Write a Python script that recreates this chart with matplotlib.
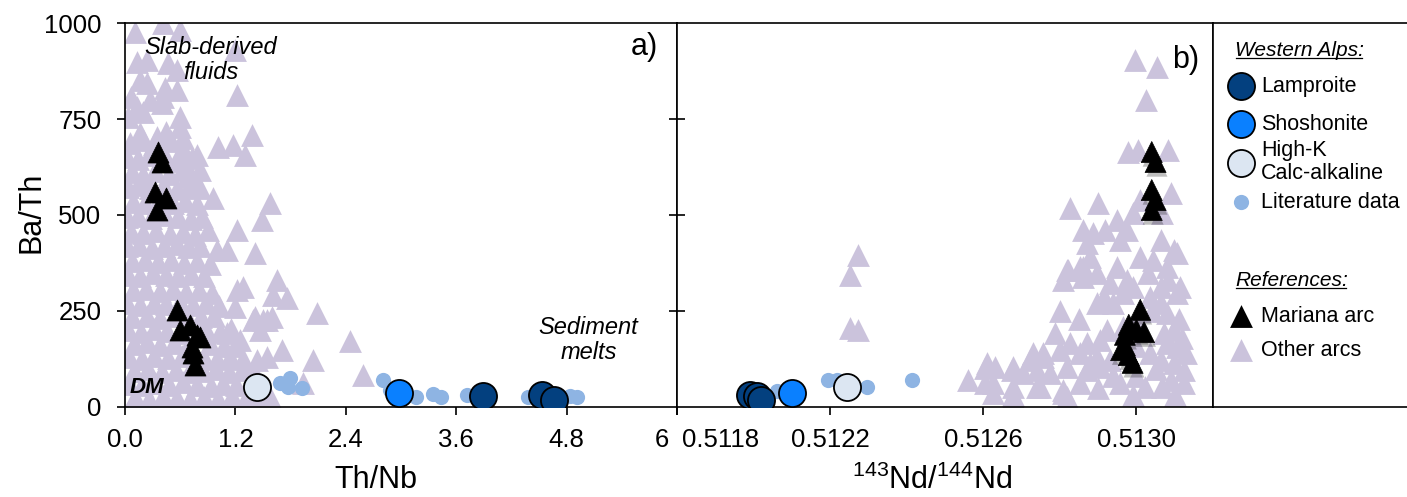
import matplotlib
matplotlib.use("Agg")
import matplotlib.pyplot as plt
import matplotlib.patheffects as pe
from matplotlib.transforms import ScaledTranslation, IdentityTransform
from matplotlib.lines import Line2D

plt.rcParams['font.family'] = ['Liberation Sans', 'DejaVu Sans']
plt.rcParams['mathtext.fontset'] = 'custom'
plt.rcParams['mathtext.rm'] = 'Liberation Sans'
plt.rcParams['mathtext.it'] = 'Liberation Sans:italic'

# ---- panel a: Th/Nb vs Ba/Th ----
other_a_x = [0.11, 0.41, 0.60, 1.20, 0.13, 0.24, 0.47, 0.56, 0.16, 0.24, 0.43, 0.56, 0.07, 0.13,
             0.27, 0.41, 0.40, 0.20, 0.03, 0.60, 0.60, 0.16, 0.35, 0.45, 0.63, 0.65, 0.78, 0.73,
             0.60, 0.82, 0.67, 0.82, 0.96, 1.22, 1.01, 1.17, 1.30, 1.38, 1.58, 1.49, 1.22, 0.90,
             1.00, 1.11, 1.41, 1.65, 1.22, 1.28, 1.61, 1.76, 1.20, 2.09, 1.39, 1.54, 1.25, 1.11,
             1.71, 2.04, 1.93, 2.45, 2.59, 1.54, 1.43, 1.54, 1.47, 1.60, 1.41, 1.50,
             0.05, 0.20, 0.32, 0.50,
             0.02, 0.14, 0.26, 0.45, 0.55,
             0.08, 0.20, 0.33, 0.48, 0.62, 0.72,
             0.03, 0.15, 0.27, 0.42, 0.57, 0.70,
             0.09, 0.22, 0.37, 0.52, 0.65, 0.78,
             0.02, 0.14, 0.28, 0.44, 0.58, 0.72, 0.84,
             0.07, 0.20, 0.34, 0.49, 0.63, 0.76,
             0.02, 0.15, 0.29, 0.42, 0.56, 0.69, 0.82,
             0.08, 0.22, 0.36, 0.50, 0.64, 0.78, 0.92,
             0.03, 0.16, 0.30, 0.45, 0.58, 0.72, 0.86,
             0.09, 0.23, 0.38, 0.52, 0.66, 0.80, 0.95,
             0.02, 0.16, 0.31, 0.45, 0.60, 0.74, 0.88, 1.02,
             0.08, 0.24, 0.38, 0.53, 0.68, 0.83, 0.97,
             0.03, 0.17, 0.31, 0.46, 0.62, 0.88, 1.03, 1.15,
             0.10, 0.24, 0.38, 0.53, 0.68, 0.92, 1.08, 1.20,
             0.04, 0.18, 0.32, 0.47, 0.62, 0.86, 1.00, 1.14, 1.28,
             0.10, 0.25, 0.40, 0.55, 0.70, 0.85, 0.99, 1.13, 1.27, 1.40,
             0.04, 0.18, 0.33, 0.48, 0.63, 0.78, 0.93, 1.07, 1.21, 1.35, 1.48,
             0.11, 0.26, 0.41, 0.56, 0.71, 0.86, 1.01, 1.16, 1.31, 1.45, 1.58]
other_a_y = [977, 1000, 982, 930, 898, 904, 895, 877, 851, 843, 830, 825, 807, 781,
             799, 807, 791, 768, 755, 755, 729, 713, 703, 716, 700, 661, 656, 648,
             651, 617, 599, 570, 544, 812, 677, 682, 656, 708, 531, 487, 461, 461,
             409, 409, 401, 331, 305, 313, 292, 284, 261, 245, 227, 227, 174, 193,
             148, 122, 62, 172, 83, 130, 122, 18, 201, 234, 234, 227,
             688, 695, 684, 692,
             652, 645, 655, 648, 640,
             612, 605, 615, 608, 618, 604,
             572, 578, 570, 576, 568, 574,
             535, 530, 538, 532, 536, 528,
             495, 498, 492, 500, 494, 490, 496,
             455, 452, 458, 450, 456, 448,
             418, 422, 415, 420, 425, 416, 420,
             380, 384, 378, 382, 376, 380, 372,
             345, 342, 348, 344, 340, 346, 342,
             305, 308, 302, 306, 300, 304, 298,
             270, 266, 272, 268, 274, 266, 270, 262,
             235, 238, 232, 236, 230, 234, 238,
             200, 196, 202, 198, 194, 200, 196, 204,
             165, 168, 162, 166, 160, 164, 160, 158,
             130, 126, 132, 128, 134, 128, 124, 130, 126,
             95, 98, 92, 96, 90, 94, 98, 92, 96, 90,
             60, 56, 62, 58, 64, 58, 54, 60, 56, 62, 58,
             25, 22, 28, 24, 20, 26, 22, 28, 24, 20, 26]

mariana_a_x = [0.36, 0.40, 0.33, 0.45, 0.35, 0.56, 0.60, 0.71, 0.78, 0.74, 0.76, 0.73, 0.82]
mariana_a_y = [664, 638, 560, 544, 513, 253, 201, 214, 188, 141, 109, 156, 182]

lit_a_x = [1.68, 1.79, 1.77, 1.92, 2.80, 2.88, 3.16, 3.35, 3.44, 3.72, 4.38, 4.84, 4.91]
lit_a_y = [62, 75, 53, 49, 70, 44, 27, 34, 27, 31, 26, 29, 26]

lamp_a_x = [3.89, 4.53, 4.66]
lamp_a_y = [28, 30, 18]
shosh_a_x = [2.98]
shosh_a_y = [37]
highk_a_x = [1.43]
highk_a_y = [52]

# ---- panel b: 143Nd/144Nd vs Ba/Th ----
other_b_x = [0.512995, 0.513055, 0.513026, 0.512979, 0.513005, 0.513083, 0.513089, 0.513010,
             0.512827, 0.512900, 0.512950, 0.512861, 0.512887, 0.512919, 0.512976, 0.512992,
             0.513068, 0.512872, 0.512958, 0.513063, 0.513097, 0.513107, 0.512880, 0.512950,
             0.513010, 0.513044, 0.513081, 0.512819, 0.512853, 0.512898, 0.512976, 0.513031,
             0.513083, 0.512809, 0.512861, 0.512932, 0.512992, 0.513063, 0.513115, 0.512914,
             0.512966, 0.513036, 0.513107, 0.512898, 0.512940, 0.513063, 0.513081, 0.512924,
             0.512966, 0.513071, 0.513097, 0.512788, 0.512827, 0.512872, 0.512906, 0.513081,
             0.513107, 0.512731, 0.512757, 0.512801, 0.512853, 0.512898, 0.512932, 0.513036,
             0.513063, 0.513097, 0.513123, 0.512610, 0.512631, 0.512678, 0.512704, 0.512741,
             0.512775, 0.512819, 0.512872, 0.512906, 0.512626, 0.512678, 0.512749, 0.512809,
             0.512853, 0.512958, 0.513023, 0.513068, 0.513123, 0.512678, 0.512819, 0.512561,
             0.512605, 0.512676, 0.512605, 0.512626, 0.512678, 0.512723, 0.512757, 0.512822,
             0.512861, 0.512741, 0.512809, 0.512880, 0.513000, 0.513040, 0.513110, 0.513120,
             0.513050, 0.513000, 0.513090, 0.512940, 0.512990, 0.513100, 0.512900, 0.513130,
             0.513000, 0.512850, 0.512800,
             0.512273, 0.512252, 0.512252, 0.512273]
other_b_y = [904, 886, 799, 664, 669, 669, 557, 539,
             518, 531, 487, 461, 453, 461, 461, 505,
             505, 427, 435, 435, 409, 401, 391, 365,
             391, 383, 365, 357, 365, 349, 331, 349,
             331, 331, 339, 323, 313, 313, 313, 287,
             297, 287, 297, 271, 271, 271, 245, 201,
             208, 193, 201, 193, 167, 167, 174, 167,
             156, 141, 141, 148, 141, 130, 122, 141,
             122, 115, 96, 115, 104, 104, 89, 96,
             89, 104, 96, 104, 62, 52, 52, 44,
             62, 62, 52, 52, 62, 26, 26, 70,
             101, 96, 62, 36, 31, 122, 130, 357,
             365, 52, 36, 115, 230, 250, 230, 180,
             100, 80, 70, 80, 30, 30, 50, 140,
             160, 230, 250,
             396, 344, 206, 201]

mariana_b_x = [0.51304, 0.51305, 0.51304, 0.51305, 0.51304, 0.51301, 0.51298, 0.51300,
               0.51302, 0.51297, 0.51296, 0.51298, 0.51299, 0.51297]
mariana_b_y = [664, 638, 565, 539, 513, 253, 214, 201, 195, 188, 148, 135, 115, 160]

lit_b_x = [0.512061, 0.512195, 0.512218, 0.512297, 0.512414]
lit_b_y = [42, 70, 70, 52, 70]

lamp_b_x = [0.51199, 0.51201, 0.51202]
lamp_b_y = [30, 28, 18]
shosh_b_x = [0.512101]
shosh_b_y = [37]
highk_b_x = [0.512244]
highk_b_y = [52]

c_other = '#CBC3DC'
c_lamp = '#03407F'
c_shosh = '#0A80FF'
c_highk = '#DCE6F2'
c_lit = '#8EB4E3'

W, H = 1407, 497
fig = plt.figure(figsize=(W / 100, H / 100), dpi=100)
ax_a = fig.add_axes([125 / W, 90 / H, 552 / W, 384 / H])
ax_b = fig.add_axes([677 / W, 90 / H, 536 / W, 384 / H])
ax_leg = fig.add_axes([1213 / W, 90 / H, 194 / W, 384 / H])

tri_s = 270
big_s = 380
lit_s = 120


def draw_panel(ax, ox, oy, mx, my, lx, ly, hx, hy, sx, sy, kx, ky, shadow=False):
    ax.scatter(ox, oy, marker='^', s=tri_s, color=c_other, linewidths=0, zorder=2)
    pm = ax.scatter(mx, my, marker='^', s=tri_s * 0.85, color='black', edgecolors='black',
                    linewidths=0.5, zorder=3)
    if shadow:
        pm.set_path_effects([pe.SimplePatchShadow(offset=(1, -3), alpha=0.25), pe.Normal()])
    ax.scatter(lx, ly, marker='o', s=lit_s, color=c_lit, linewidths=0, zorder=4)
    ax.scatter(hx, hy, marker='o', s=big_s, color=c_highk, edgecolors='black', linewidths=1.3, zorder=5)
    ax.scatter(sx, sy, marker='o', s=big_s, color=c_shosh, edgecolors='black', linewidths=1.3, zorder=5)
    ax.scatter(kx, ky, marker='o', s=big_s, color=c_lamp, edgecolors='black', linewidths=1.3, zorder=6)
    ax.set_ylim(0, 1000)
    for sp in ax.spines.values():
        sp.set_linewidth(1.2)


draw_panel(ax_a, other_a_x, other_a_y, mariana_a_x, mariana_a_y, lit_a_x, lit_a_y,
           highk_a_x, highk_a_y, shosh_a_x, shosh_a_y, lamp_a_x, lamp_a_y)
draw_panel(ax_b, other_b_x, other_b_y, mariana_b_x, mariana_b_y, lit_b_x, lit_b_y,
           highk_b_x, highk_b_y, shosh_b_x, shosh_b_y, lamp_b_x, lamp_b_y, shadow=True)

ax_a.set_xlim(0, 6)
ax_a.set_xticks([0, 1.2, 2.4, 3.6, 4.8, 6], ['0.0', '1.2', '2.4', '3.6', '4.8', '6'])
ax_a.set_yticks([0, 250, 500, 750, 1000])
ax_a.tick_params(axis='both', direction='out', length=6, width=1.2, labelsize=18.5)
ax_a.tick_params(axis='x', pad=9)
ax_a.tick_params(axis='y', pad=11)

ax_b.set_xlim(0.5118, 0.5132)
ax_b.set_xticks([0.5118, 0.5122, 0.5126, 0.5130], ['0.5118', '0.5122', '0.5126', '0.5130'])
ax_b.set_yticks([250, 500, 750])
ax_b.tick_params(axis='x', direction='out', length=6, width=1.2, labelsize=18.5, pad=9)
ax_b.tick_params(axis='y', direction='inout', length=12, width=1.2, labelleft=False)

# nudge the two labels that meet at the shared edge
lab6 = ax_a.get_xticklabels()[-1]
lab6.set_ha('right')
lab6.set_transform(lab6.get_transform() + ScaledTranslation(-0.08, 0, fig.dpi_scale_trans))
lab0 = ax_b.get_xticklabels()[0]
lab0.set_ha('left')
lab0.set_transform(lab0.get_transform() + ScaledTranslation(0.05, 0, fig.dpi_scale_trans))

fig.text(32 / W, 1 - 212 / H, 'Ba/Th', rotation=90, fontsize=22, ha='center', va='center')
fig.text(376 / W, 1 - 480 / H, 'Th/Nb', fontsize=22, ha='center', va='center')
fig.text(932 / W, 1 - 480 / H, r'$^{143}$Nd/$^{144}$Nd', fontsize=22, ha='center', va='center')

ax_a.text(5.64, 937, 'a)', fontsize=22, ha='center', va='center')
ax_b.text(0.513128, 904, 'b)', fontsize=22, ha='center', va='center')
ax_a.text(0.93, 903, 'Slab-derived\nfluids', fontsize=17, style='italic', ha='center',
          va='center', linespacing=1.1, zorder=7)
ax_a.text(5.04, 174, 'Sediment\nmelts', fontsize=17, style='italic', ha='center',
          va='center', linespacing=1.1)
ax_a.text(0.05, 52, 'DM', fontsize=16, style='italic', weight='bold', ha='left', va='center', zorder=7)

# ---- legend box ----
ax_leg.set_xlim(1213, 1407)
ax_leg.set_ylim(407, 23)
ax_leg.set_xticks([])
ax_leg.set_yticks([])
ax_leg.spines['right'].set_visible(False)
for sp in ax_leg.spines.values():
    sp.set_linewidth(1.2)

hdr1 = ax_leg.text(1235, 50, 'Western Alps:', fontsize=15, style='italic', ha='left', va='center')
hdr2 = ax_leg.text(1235, 280, 'References:', fontsize=15, style='italic', ha='left', va='center')
ax_leg.scatter([1241], [86], s=big_s, color=c_lamp, edgecolors='black', linewidths=1.3)
ax_leg.scatter([1241], [124], s=big_s, color=c_shosh, edgecolors='black', linewidths=1.3)
ax_leg.scatter([1241], [163], s=big_s, color=c_highk, edgecolors='black', linewidths=1.3)
ax_leg.scatter([1241], [202], s=lit_s, color=c_lit, linewidths=0)
ax_leg.scatter([1241], [316], marker='^', s=tri_s, color='black', linewidths=0)
ax_leg.scatter([1241], [350], marker='^', s=tri_s, color=c_other, linewidths=0)
ax_leg.text(1261, 86, 'Lamproite', fontsize=15.5, ha='left', va='center')
ax_leg.text(1261, 124, 'Shoshonite', fontsize=15.5, ha='left', va='center')
ax_leg.text(1261, 162, 'High-K\nCalc-alkaline', fontsize=15.5, ha='left', va='center', linespacing=1.15)
ax_leg.text(1261, 202, 'Literature data', fontsize=15.5, ha='left', va='center')
ax_leg.text(1261, 316, 'Mariana arc', fontsize=15.5, ha='left', va='center')
ax_leg.text(1261, 350, 'Other arcs', fontsize=15.5, ha='left', va='center')

fig.canvas.draw()
for t in (hdr1, hdr2):
    bb = t.get_window_extent()
    fig.add_artist(Line2D([bb.x0 + 1, bb.x1 - 2], [bb.y0 + 2, bb.y0 + 2], transform=IdentityTransform(),
                          color='black', linewidth=0.9))

fig.savefig('out.png', dpi=100)
